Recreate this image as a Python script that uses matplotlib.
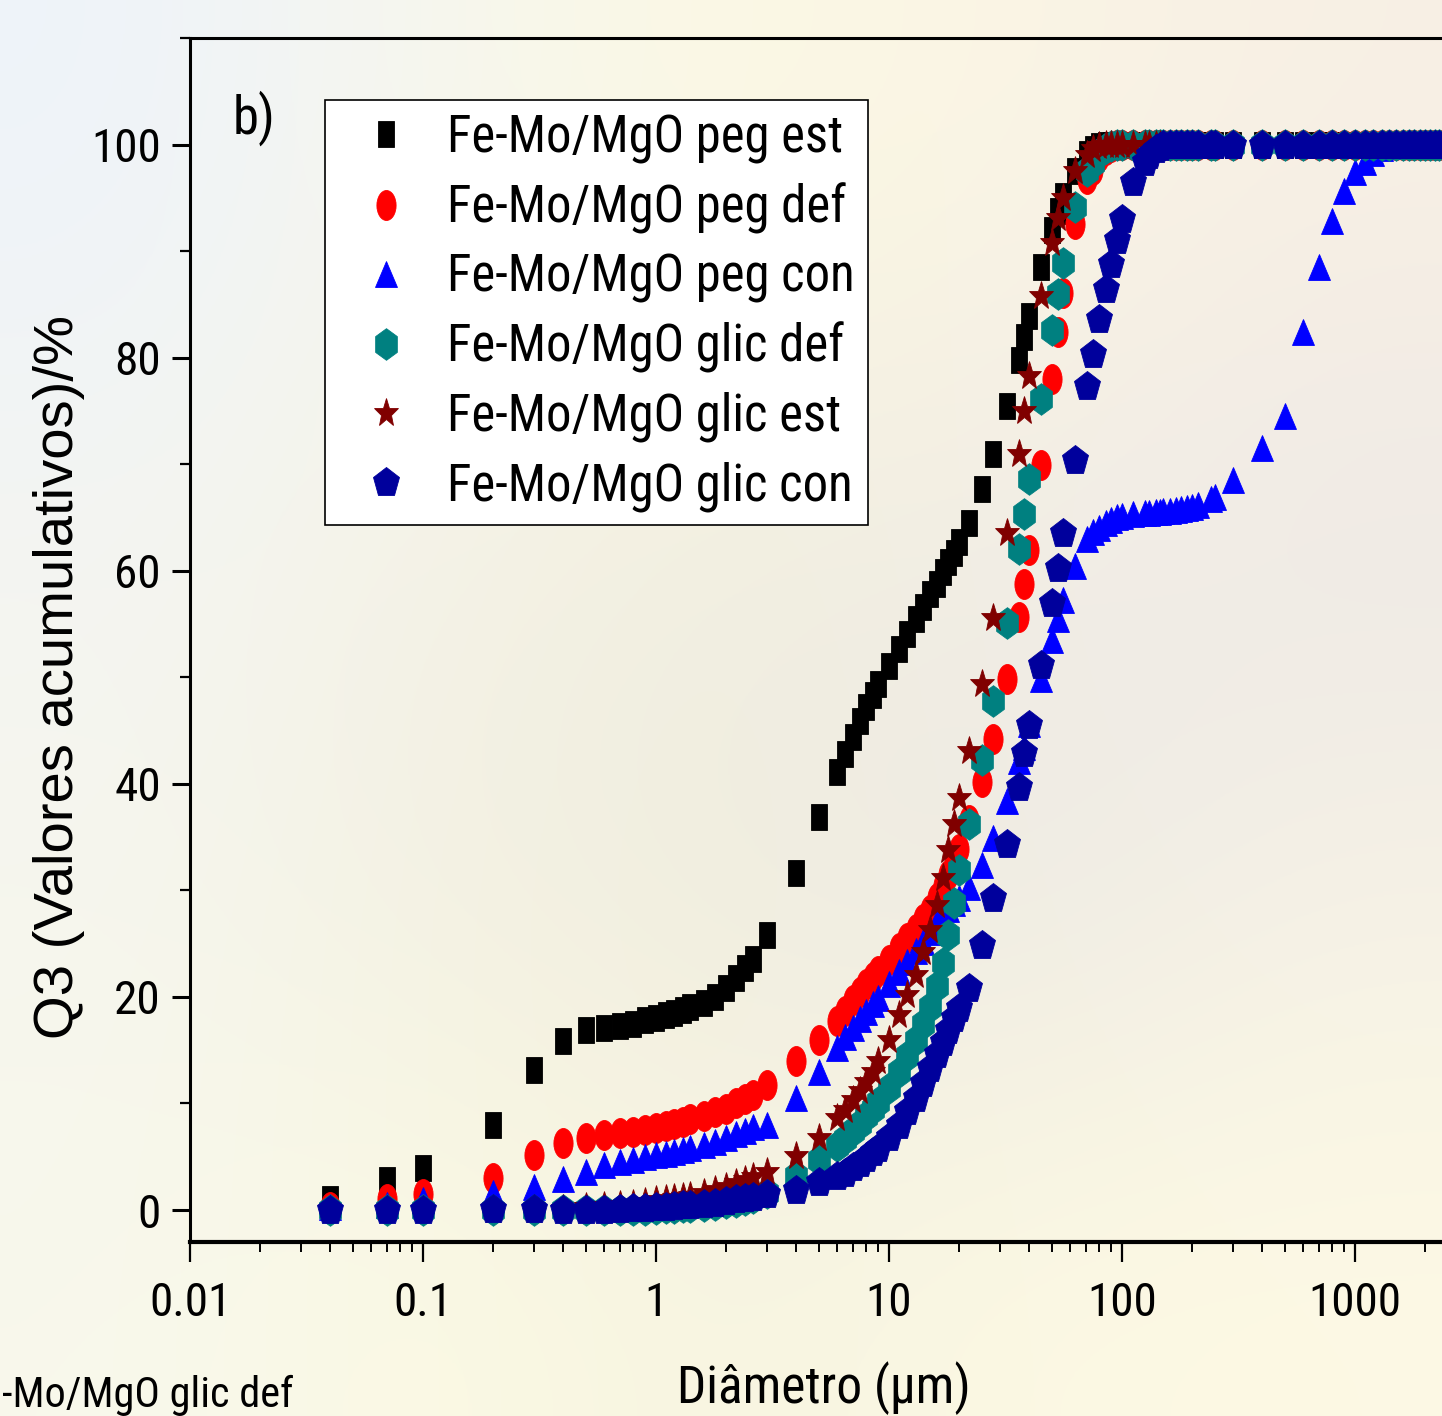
import numpy as np
import matplotlib
matplotlib.use("Agg")
import matplotlib.pyplot as plt
from matplotlib.markers import MarkerStyle
from matplotlib.transforms import Affine2D
from matplotlib import font_manager as fm
from matplotlib.ticker import LogLocator, MultipleLocator, NullFormatter
from matplotlib.colors import to_rgb

# ---------------- data ----------------
diameter = [0.04, 0.07, 0.1,
            0.2, 0.3, 0.4, 0.5, 0.6, 0.7, 0.8, 0.9,
            1.0, 1.1, 1.2, 1.3, 1.4, 1.6, 1.8,
            2.0, 2.2, 2.4, 2.6, 3.0,
            4, 5, 6, 6.5, 7, 7.5, 8, 8.5, 9,
            10, 11, 12, 13, 14, 15, 16, 17, 18, 19, 20,
            22, 25, 28, 32, 36, 38, 40,
            45, 50, 53, 56, 63, 71, 75, 80,
            85, 90, 95, 100, 112, 125, 130, 140,
            145, 150, 160, 170, 180, 190, 200, 212,
            242, 250, 300, 400, 500, 600, 700, 800,
            900, 1000, 1100, 1200, 1300, 1400, 1500, 1600,
            1700, 1800, 1900, 2000, 2100, 2200, 2300, 2400, 2500]

peg_est = [1.0, 2.8, 3.9,
           8.0, 13.1, 15.9, 16.9, 17.1, 17.3, 17.5, 17.8,
           18.0, 18.3, 18.5, 18.8, 19.1, 19.4, 20.0,
           20.8, 21.8, 22.7, 23.6, 25.8,
           31.6, 36.9, 41.1, 42.8, 44.4, 45.9, 47.2, 48.3, 49.4,
           51.1, 52.7, 54.1, 55.5, 56.6, 57.8, 58.8, 59.9, 60.8, 61.7, 62.7,
           64.5, 67.7, 71.0, 75.5, 79.8, 81.9, 83.9,
           88.5, 92.0, 93.8, 95.2, 97.5, 99.1, 99.6, 99.9,
           100.0, 100.0, 100.0, 100.0, 100.0, 100.0, 100.0, 100.0,
           100.0, 100.0, 100.0, 100.0, 100.0, 100.0, 100.0, 100.0,
           100.0, 100.0, 100.0, 100.0, 100.0, 100.0, 100.0, 100.0,
           100.0, 100.0, 100.0, 100.0, 100.0, 100.0, 100.0, 100.0,
           100.0, 100.0, 100.0, 100.0, 100.0, 100.0, 100.0, 100.0, 100.0]

peg_def = [0.3, 1.0, 1.5,
           3.0, 5.2, 6.3, 6.8, 7.0, 7.2, 7.35, 7.5,
           7.7, 7.9, 8.1, 8.3, 8.5, 8.8, 9.2,
           9.5, 10.0, 10.4, 10.8, 11.7,
           14.0, 16.0, 17.7, 18.7, 19.7, 20.5, 21.2, 21.9, 22.4,
           23.5, 24.6, 25.5, 26.4, 27.3, 28.2, 29.3, 30.4, 31.4, 32.6, 33.9,
           36.6, 40.2, 44.2, 49.8, 55.7, 58.8, 61.9,
           69.9, 78.0, 82.4, 86.1, 92.5, 96.8, 97.6, 98.8,
           99.5, 99.8, 100.0, 100.0, 100.0, 100.0, 100.0, 100.0,
           100.0, 100.0, 100.0, 100.0, 100.0, 100.0, 100.0, 100.0,
           100.0, 100.0, 100.0, 100.0, 100.0, 100.0, 100.0, 100.0,
           100.0, 100.0, 100.0, 100.0, 100.0, 100.0, 100.0, 100.0,
           100.0, 100.0, 100.0, 100.0, 100.0, 100.0, 100.0, 100.0, 100.0]

peg_con = [0.3, 0.5, 0.9,
           1.6, 2.2, 2.9, 3.6, 4.2, 4.5, 4.7, 5.0,
           5.15, 5.3, 5.45, 5.6, 5.8, 6.1, 6.4,
           6.8, 7.1, 7.4, 7.8, 8.0,
           10.5, 13.0, 15.2, 16.2, 17.1, 17.9, 18.6, 19.3, 19.9,
           21.2, 22.3, 23.3, 24.3, 25.2, 26.1, 27.0, 27.7, 28.3, 28.8, 29.3,
           30.3, 32.4, 34.9, 38.4, 42.1, 43.5, 45.6,
           49.8, 53.5, 55.5, 57.3, 60.4, 63.0, 63.6, 64.0,
           64.5, 64.8, 65.0, 65.1, 65.3, 65.4, 65.4, 65.5,
           65.5, 65.6, 65.6, 65.7, 65.8, 65.9, 66.0, 66.2,
           66.7, 66.9, 68.5, 71.5, 74.5, 82.4, 88.5, 92.8,
           95.6, 97.4, 98.4, 99.2, 99.7, 99.9, 100.0, 100.0,
           100.0, 100.0, 100.0, 100.0, 100.0, 100.0, 100.0, 100.0, 100.0]

glic_def = [0.0, 0.0, 0.0,
            0.0, 0.0, 0.0, 0.0, 0.0, 0.0, 0.0, 0.05,
            0.1, 0.15, 0.2, 0.25, 0.3, 0.4, 0.5,
            0.65, 0.8, 0.95, 1.1, 1.6,
            3.2, 4.7, 6.0, 6.7, 7.4, 8.1, 8.8, 9.5, 10.1,
            11.5, 13.0, 14.5, 16.0, 17.5, 19.1, 21.0, 23.2, 25.8, 28.8, 31.9,
            36.2, 42.2, 47.8, 55.1, 62.0, 65.3, 68.6,
            76.1, 82.6, 86.0, 88.9, 94.1, 97.5, 98.3, 99.2,
            99.7, 99.9, 100.0, 100.0, 100.0, 100.0, 100.0, 100.0,
            100.0, 100.0, 100.0, 100.0, 100.0, 100.0, 100.0, 100.0,
            100.0, 100.0, 100.0, 100.0, 100.0, 100.0, 100.0, 100.0,
            100.0, 100.0, 100.0, 100.0, 100.0, 100.0, 100.0, 100.0,
            100.0, 100.0, 100.0, 100.0, 100.0, 100.0, 100.0, 100.0, 100.0]

glic_est = [0.0, 0.0, 0.0,
            0.0, 0.0, 0.1, 0.3, 0.4, 0.5, 0.6, 0.75,
            0.9, 1.0, 1.1, 1.2, 1.35, 1.6, 1.9,
            2.2, 2.5, 2.8, 3.1, 3.6,
            5.1, 6.8, 8.6, 9.4, 10.3, 11.2, 12.0, 13.0, 14.0,
            16.0, 18.3, 20.2, 22.1, 24.2, 26.3, 28.6, 31.2, 33.8, 36.2, 38.7,
            43.1, 49.4, 55.6, 63.5, 71.0, 75.0, 78.3,
            85.8, 90.8, 93.1, 95.0, 97.5, 99.0, 99.6, 99.9,
            100.0, 100.0, 100.0, 100.0, 100.0, 100.0, 100.0, 100.0,
            100.0, 100.0, 100.0, 100.0, 100.0, 100.0, 100.0, 100.0,
            100.0, 100.0, 100.0, 100.0, 100.0, 100.0, 100.0, 100.0,
            100.0, 100.0, 100.0, 100.0, 100.0, 100.0, 100.0, 100.0,
            100.0, 100.0, 100.0, 100.0, 100.0, 100.0, 100.0, 100.0, 100.0]

glic_con = [0.0, 0.0, 0.0,
            0.1, 0.1, 0.0, 0.0, 0.05, 0.1, 0.15, 0.2,
            0.25, 0.3, 0.4, 0.45, 0.5, 0.6, 0.7,
            0.85, 1.0, 1.1, 1.25, 1.5,
            1.9, 2.6, 3.2, 3.5, 4.0, 4.4, 4.9, 5.4, 5.8,
            6.9, 8.0, 9.3, 10.5, 11.9, 13.3, 14.6, 15.8, 16.9, 18.0, 19.0,
            20.8, 24.9, 29.3, 34.4, 39.7, 42.9, 45.5,
            51.2, 57.0, 60.3, 63.5, 70.4, 77.3, 80.3, 83.6,
            86.4, 88.8, 91.0, 93.0, 96.5, 98.4, 99.0, 99.6,
            99.8, 100.0, 100.0, 100.0, 100.0, 100.0, 100.0, 100.0,
            100.0, 100.0, 100.0, 100.0, 100.0, 100.0, 100.0, 100.0,
            100.0, 100.0, 100.0, 100.0, 100.0, 100.0, 100.0, 100.0,
            100.0, 100.0, 100.0, 100.0, 100.0, 100.0, 100.0, 100.0, 100.0]

series_labels = ["Fe-Mo/MgO peg est", "Fe-Mo/MgO peg def", "Fe-Mo/MgO peg con",
                 "Fe-Mo/MgO glic def", "Fe-Mo/MgO glic est", "Fe-Mo/MgO glic con"]
series_values = [peg_est, peg_def, peg_con, glic_def, glic_est, glic_con]
x_tick_values = [0.01, 0.1, 1, 10, 100, 1000]
x_tick_labels = ["0.01", "0.1", "1", "10", "100", "1000"]
y_tick_values = [0, 20, 40, 60, 80, 100]
y_tick_labels = ["0", "20", "40", "60", "80", "100"]

# ---------------- style ----------------
colors = ["#000000", "#FF0000", "#0000FF", "#008080", "#800000", "#00009C"]
marker_specs = [("s", 0.65, 18.7), ("o", 0.64, 21.6), ("^", 0.85, 19.4),
                ("h", 0.79, 22.8), ("*", 0.85, 21.5), ("p", 0.85, 22.3)]


def font_ok(name):
    try:
        fm.findfont(fm.FontProperties(family=name), fallback_to_default=False)
        return True
    except Exception:
        return False


NARROW = None
for cand in ["Liberation Sans Narrow", "Arial Narrow", "Roboto Condensed", "Open Sans Condensed"]:
    if font_ok(cand):
        NARROW = cand
        break
shrink = 1.0
if NARROW is None:
    NARROW = "Liberation Sans" if font_ok("Liberation Sans") else "DejaVu Sans"
    shrink = 0.82
REGULAR = "Liberation Sans" if font_ok("Liberation Sans") else "DejaVu Sans"

W, H = 1442, 1416
fig = plt.figure(figsize=(W / 100, H / 100), dpi=100)

# soft pastel background (decorative)
bg_grid = [["#EEF3FA", "#F7F7EE", "#FCF9E4", "#FBF5E4", "#F8F0E4"],
           ["#F4F5F2", "#F5F3E6", "#F1EEDF", "#F2EEE6", "#EEE9E6"],
           ["#F6F6EE", "#F2F0E2", "#F0EDDF", "#ECE9E4", "#F5F1E6"],
           ["#F8F8EC", "#FCFAE3", "#F7F4E1", "#FCF9E3", "#FDF9E4"]]
bg = np.array([[to_rgb(c) for c in row] for row in bg_grid])
bgax = fig.add_axes([0, 0, 1, 1], zorder=-10)
bgax.imshow(bg, aspect="auto", interpolation="bicubic", extent=[0, 1, 0, 1])
bgax.set_axis_off()

# axes: left spine at x=190px, bottom at y=1242px, top at y=38px, runs off right edge
left_px, right_px, bottom_px, top_px = 190, 1442, 1242, 38
ax = fig.add_axes([left_px / W, (H - bottom_px) / H, (right_px - left_px) / W,
                   (bottom_px - top_px) / H])
ax.set_facecolor("none")
ax.set_xscale("log")
ax.set_xlim(0.01, 10 ** (-2 + (right_px - left_px) / 233.0))
ax.set_ylim(-3.0, 110.0)

lines = []
for i, (vals, lab) in enumerate(zip(series_values, series_labels)):
    mk, sx, ms = marker_specs[i]
    mstyle = MarkerStyle(mk, transform=Affine2D().scale(sx, 1.0))
    ln, = ax.plot(diameter, vals, linestyle="none", marker=mstyle, markersize=ms,
                  color=colors[i], markeredgecolor=colors[i], markeredgewidth=0.6,
                  label=lab, zorder=3 + i)
    lines.append(ln)

# spines
ax.spines["right"].set_visible(False)
ax.spines["left"].set_linewidth(2.2)
ax.spines["top"].set_linewidth(2.2)
ax.spines["bottom"].set_linewidth(3.0)

# ticks
ax.xaxis.set_minor_locator(LogLocator(base=10, subs=np.arange(2, 10), numticks=40))
ax.set_xticks(x_tick_values)
ax.set_xticklabels(x_tick_labels)
ax.xaxis.set_minor_formatter(NullFormatter())
ax.set_yticks(y_tick_values)
ax.set_yticklabels(y_tick_labels)
ax.yaxis.set_minor_locator(MultipleLocator(10))
ax.tick_params(axis="x", which="major", direction="out", length=14.4, width=1.6, pad=14,
               labelsize=34 * shrink, top=False)
ax.tick_params(axis="x", which="minor", direction="out", length=7, width=1.4, top=False)
ax.tick_params(axis="y", which="major", direction="out", length=13, width=2.2, pad=8,
               labelsize=34 * shrink, right=False)
ax.tick_params(axis="y", which="minor", direction="out", length=7, width=1.6, right=False)
for t in ax.get_xticklabels() + ax.get_yticklabels():
    t.set_fontfamily(NARROW)

# axis labels
ax.set_xlabel("Diâmetro (μm)", fontfamily=NARROW, fontsize=37 * shrink)
ax.xaxis.set_label_coords(0.506, -0.121)
ax.xaxis.label.set_va("center")
ax.set_ylabel("Q3 (Valores acumulativos)/%", fontfamily=REGULAR, fontsize=40.5)
ax.yaxis.set_label_coords(-0.105, 0.469)
ax.yaxis.label.set_va("center")

# panel tag
ax.text((233 - left_px) / (right_px - left_px), (bottom_px - 118) / (bottom_px - top_px), "b)",
        transform=ax.transAxes, fontfamily=NARROW, fontsize=38 * shrink,
        ha="left", va="center")

# legend
leg = ax.legend(handles=lines, loc="upper left",
                bbox_to_anchor=((325 - left_px) / (right_px - left_px),
                                (bottom_px - 100) / (bottom_px - top_px)),
                borderaxespad=0, prop=fm.FontProperties(family=NARROW, size=36.5 * shrink),
                numpoints=1, handlelength=1.9, handletextpad=0.25, borderpad=0.26,
                labelspacing=0.37, frameon=True, fancybox=False, framealpha=1,
                edgecolor="black", facecolor="white")
leg.get_frame().set_linewidth(1.2)
leg.set_zorder(20)

# visible part of a caption belonging to the neighbouring panel
fig.text(2 / W, (H - 1395) / H, "-Mo/MgO glic def", ha="left", va="center",
         fontfamily=NARROW, fontsize=30.5 * shrink)

fig.savefig("out.png", dpi=100)
